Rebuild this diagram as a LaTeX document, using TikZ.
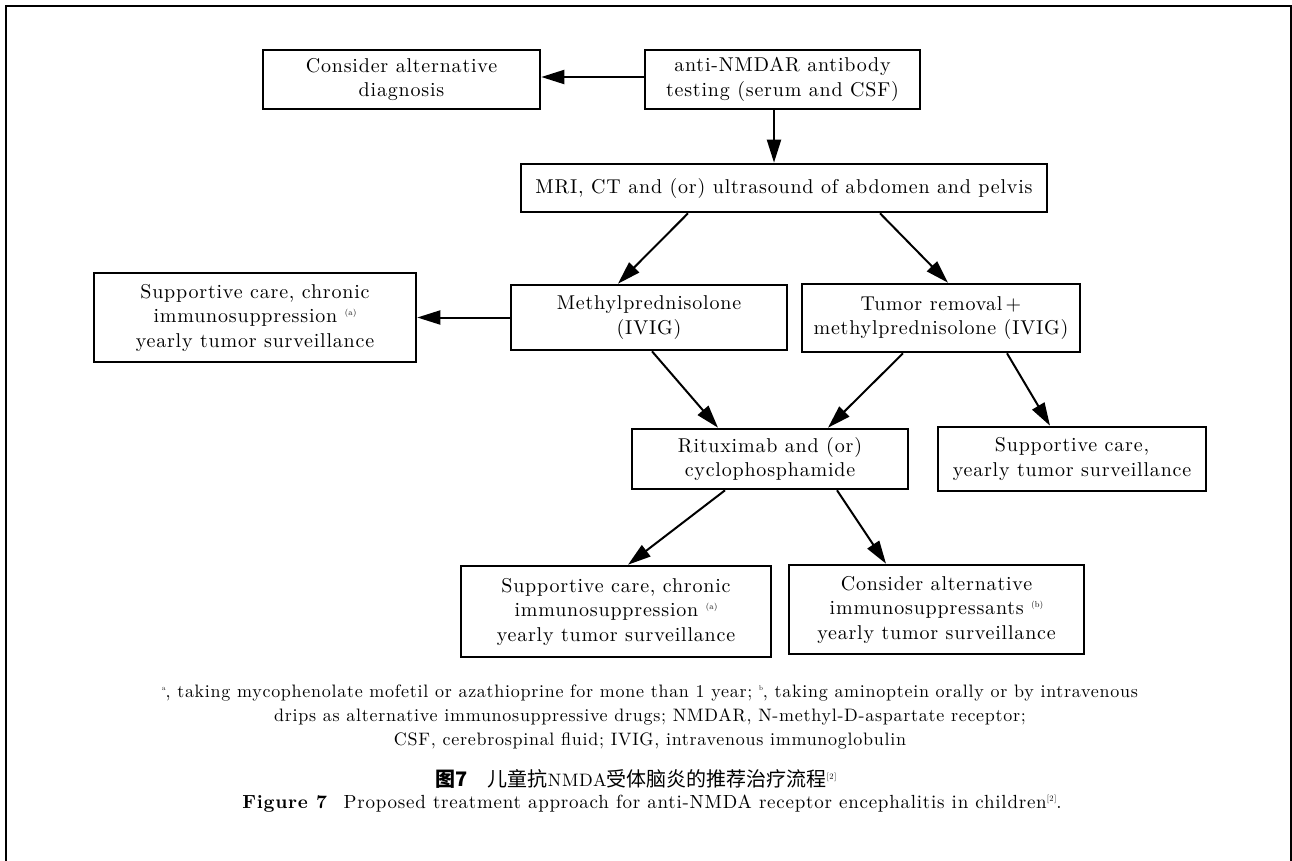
\documentclass[tikz,border=0pt]{standalone}
\usepackage{fontspec}
\setmainfont{Latin Modern Roman}
\newfontfamily\boxfam[Extension=.otf, LetterSpace=4]{lmroman10-regular}
\newfontfamily\notefam[Extension=.otf, LetterSpace=4, BoldFont=lmroman10-bold]{lmroman10-regular}
\newfontfamily\cjk{Noto Sans CJK SC}
\usetikzlibrary{arrows.meta}
\newcommand\boxfont{\boxfam\fontsize{20}{24.5}\selectfont}
\newcommand\notefont{\notefam\fontsize{18}{24}\selectfont}
\newcommand\cjkfont{\cjk\fontsize{20}{20}\selectfont}
\newcommand\supmark[1]{\raisebox{7pt}{\fontsize{8.5}{8.5}\selectfont #1}}
\begin{document}
\begin{tikzpicture}[x=1pt,y=-1pt,
  box/.style={draw, line width=2.6pt, rectangle, inner sep=0pt, align=center, font=\boxfont},
  arr/.style={line width=2pt, -{Triangle[length=23pt,width=14pt]}},
  note/.style={inner sep=0pt, align=center, font=\notefont}]
\useasboundingbox (0,0) rectangle (1292,860);
\draw[line width=2.5pt] (6,875) -- (6,6) -- (1291,6) -- (1291,875);

\node[box, minimum width=277pt, minimum height=59pt] (A) at (401.5,79.5) {Consider alternative\\diagnosis};
\node[box, minimum width=275pt, minimum height=59pt] (B) at (782.5,79.5) {anti-NMDAR antibody\\testing (serum and CSF)};
\node[box, minimum width=526pt, minimum height=48pt] (C) at (784,188) {MRI, CT and (or) ultrasound of abdomen and pelvis};
\node[box, minimum width=276pt, minimum height=65pt] (D) at (649,317.5) {Methylprednisolone\\(IVIG)};
\node[box, minimum width=278pt, minimum height=68pt] (E) at (941,318) {Tumor removal\,+\\methylprednisolone (IVIG)};
\node[box, minimum width=322pt, minimum height=89pt] (F) at (255,317.5) {Supportive care, chronic\\immunosuppression \supmark{(a)}\\yearly tumor surveillance};
\node[box, minimum width=276pt, minimum height=60pt] (H) at (770,459) {Rituximab and (or)\\cyclophosphamide};
\node[box, minimum width=268pt, minimum height=64pt] (G) at (1072,459) {Supportive care,\\yearly tumor surveillance};
\node[box, minimum width=310pt, minimum height=91pt] (I) at (616,611.5) {Supportive care, chronic\\immunosuppression \supmark{(a)}\\yearly tumor surveillance};
\node[box, minimum width=295pt, minimum height=89pt] (J) at (936.5,609.5) {Consider alternative\\immunosuppressants \supmark{(b)}\\yearly tumor surveillance};

\draw[arr] ([yshift=2.5pt]B.west) -- ([yshift=2.5pt]A.east);
\draw[arr] ([xshift=-8.5pt]B.south) -- ([xshift=-10pt]C.north);
\draw[arr] ([xshift=-96pt]C.south) -- ([xshift=-31pt]D.north);
\draw[arr] ([xshift=96pt]C.south) -- ([xshift=7pt]E.north);
\draw[arr] (D.west) -- (F.east);
\draw[arr] ([xshift=3pt]D.south) -- ([xshift=-52pt]H.north);
\draw[arr] ([xshift=-38pt]E.south) -- ([xshift=58pt]H.north);
\draw[arr] ([xshift=66pt]E.south) -- ([xshift=-22pt]G.north);
\draw[arr] ([xshift=-45pt]H.south) -- ([xshift=12pt]I.north);
\draw[arr] ([xshift=67pt]H.south) -- ([xshift=-50.5pt]J.north);

\node[note] (N) at (650,717) {\supmark{\fontsize{7}{7}\selectfont a}, taking mycophenolate mofetil or azathioprine for mone than 1 year; \supmark{\fontsize{7}{7}\selectfont b}, taking aminoptein orally or by intravenous\\drips as alternative immunosuppressive drugs; NMDAR, N-methyl-D-aspartate receptor;\\CSF, cerebrospinal fluid; IVIG, intravenous immunoglobulin};
\node[note] (CN) at (636,779) {{\cjkfont\bfseries 图7}\hspace{20pt}{\cjkfont 儿童抗}NMDA{\cjkfont 受体脑炎的推荐治疗流程}\supmark{[2]}};
\node[note, font=\notefam\fontsize{19}{24}\selectfont] (EN) at (652,804) {\textbf{Figure 7}\hspace{16pt}Proposed treatment approach for anti-NMDA receptor encephalitis in children\supmark{[2]}.};
\end{tikzpicture}
\end{document}
